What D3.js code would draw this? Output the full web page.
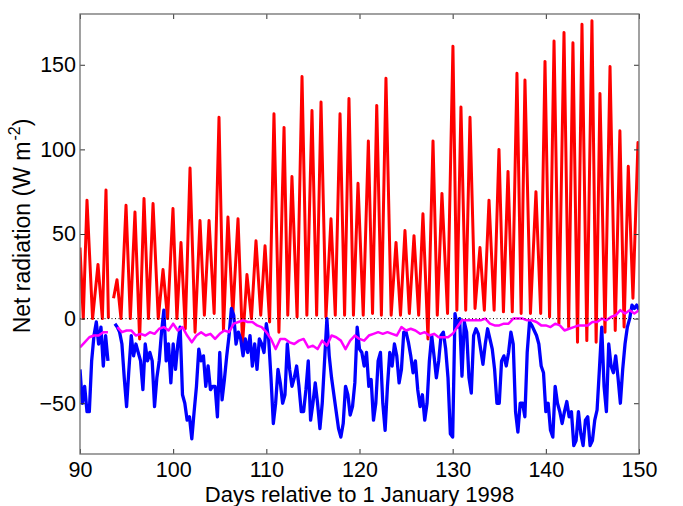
<!DOCTYPE html>
<html>
<head>
<meta charset="utf-8">
<script src="https://cdn.jsdelivr.net/npm/d3@7"></script>
<style>
  body { margin: 0; background: #fff; }
  svg text { font-family: "Liberation Sans", Arial, Helvetica, sans-serif; fill: #000; }
</style>
</head>
<body>
<svg id="chart" width="683" height="506"></svg>
<script>
// tick labels
const xTicks = [90, 100, 110, 120, 130, 140, 150];
const yTicks = [-50, 0, 50, 100, 150];

// red series: [day, W m-2], null = data gap
const redPoints = [
  [90.00, 42], [90.35, 0], [90.75, 70], [91.35, 0], [91.93, 32], [92.40, 0], [92.79, 76], [93.05, 0], null,
  [93.60, 12], [93.97, 23], [94.40, 0], [94.94, 67], [95.40, 0], [95.90, 63], [96.40, -12], [96.87, 71],
  [97.35, 0], [97.84, 68], [98.40, 0], [98.91, 29], [99.40, 0], [99.98, 65], [100.40, 0], [100.84, 45],
  [101.30, -6], [101.81, 89], [102.35, -8], [102.88, 58], [103.35, 2], [103.85, 58], [104.40, 3],
  [104.92, 119], [105.02, 92], [105.40, -7], [105.88, 60], [106.40, 2], [106.96, 59], [107.45, -15],
  [107.92, 26], [108.40, 0], [108.89, 46], [109.40, 2], [109.86, 43], [110.35, -2], [110.82, 121],
  [111.35, -8], [111.90, 113], [112.30, 2], [112.75, 84], [113.30, 1], [113.83, 143], [114.35, 2],
  [114.90, 123], [115.40, 2], [115.87, 128], [116.40, 1], [116.94, 59], [117.40, 2], [117.91, 121],
  [118.40, 2], [118.87, 130], [119.35, 2], [119.84, 80], [120.40, 2], [120.95, 105], [121.40, 3],
  [121.85, 126], [122.35, 2], [122.84, 142], [123.40, 2], [123.92, 45], [124.40, 2], [124.88, 52],
  [125.35, 3], [125.85, 49], [126.35, 2], [126.81, 62], [127.35, -12], [127.89, 105], [128.35, 2],
  [128.85, 74], [129.45, 3], [130.03, 161], [130.45, 5], [130.89, 125], [131.40, 5], [131.86, 119],
  [132.40, 6], [132.93, 42], [133.40, 5], [133.90, 70], [134.45, 5], [134.97, 100], [135.45, 4],
  [135.94, 87], [136.40, 4], [136.90, 145], [137.35, 3], [137.76, 141], [138.35, 3], [138.94, 75],
  [139.45, 3], [139.91, 152], [140.40, 1], [140.88, 164], [141.40, -3], [141.95, 169], [142.45, -5],
  [142.91, 163], [143.40, -14], [143.88, 174], [144.40, -13], [144.95, 176], [145.40, -14],
  [145.81, 133], [146.35, -8], [146.89, 149], [147.45, -7], [147.95, 111], [148.40, -5], [148.85, 90],
  [149.35, 12], [149.89, 104], [150.00, 100]
];

// blue series, sampled every 6 h from day 90
const blueStart = 90;
const blueStep = 0.25;
const blueValues = [
  -30, -50, -40, -55,   -55, -25, -10, -2,    -15, -5, -28, -10,    -25, null, null, -3,
  -5, -8, -15, -35,     -52, -30, -10, -22,   -15, -20, -25, -42,   -15, -25, -20, -25,
  -52, -35, -25, -8,    5, -25, -15, -38,     -15, -30, -15, -5,    -45, -50, -60, -58,
  -71, -55, -40, -18,   -25, -22, -40, -28,   -42, -40, -40, -58,   -20, -48, -36, -22,
  -10, 6, 2, -15,       -8, -12, -22, -12,    -20, -10, -28, -15,   -30, -12, -15, -20,
  -3, -12, -35, -62,    -50, -30, -38, -50,   -45, -15, -30, -40,   -35, -28, -40, -55,
  -55, -42, -25, -60,   -50, -38, -50, -65,   -50, -25, 0, -22,     -35, -45, -55, -65,
  -70, -62, -40, -45,   -57, -52, -38, -5,    -18, -20, -28, -20,   -40, -36, -60, -50,
  -25, -20, -50, -66,   -40, -20, -28, -15,   -22, -38, -30, -8,    -8, -14, -22, -32,
  -25, -42, -52, -45,   -60, -50, -25, -10,   -22, -35, -25, -10,   -8, -18, -35, -68,
  -70, 3, -5, 0,        -34, -2, -8, -35,     -44, -10, -6, -9,     -18, -27, -15, -6,
  -12, -18, -30, -50,   -50, -25, -22, -28,   -20, -8, -15, -55,    -67, -50, -50, -58,
  -20, -2, -4, -7,      -10, -15, -28, -32,   -55, -50, -66, -70,   -40, -50, -55, -62,
  -55, -49, -58, -55,   -75, -72, -55, -68,   -75, -60, -58, -75,   -72, -60, -54, -30,
  -5, -40, -55, -15,    -28, -32, -22, -35,   -50, -30, -15, -5,    0, 8, 6, 8,
  5
];

// magenta series, sampled every 12 h from day 90
const magentaStart = 90;
const magentaStep = 0.5;
const magentaValues = [
  -17, -14, -11, -10, -10, -8, -8, null, -5, -8, -7, -7, -10, -9, -10, -8, -9, -6, -5, -7,
  -3, -7, -5, -10, -14, -10, -8, -10, -9, -12, -9, -7, -8, -3, -2, -1, -2, -2, -4, -5,
  -8, -12, -18, -12, -12, -14, -15, -13, -12, -17, -16, -18, -13, -16, -10, -11, -13, -18, -13, -10,
  -12, -13, -10, -9, -8, -9, -8, -9, -10, -5, -7, -6, -7, -9, -8, -10, -9, -11, -11, -11,
  -9, -5, -1, -1, -1, -1, -1, 0, -3, -4, -4, -3, -3, 0, 0, 0, -1, -1, -2, -4,
  -4, -5, -3, -4, -7, -6, -5, -4, -4, -4, -2, -2, 0, -1, 1, 2, 5, 3, 5, 3,
  5
];

const svg = d3.select("#chart");

const x = d3.scaleLinear().domain([90, 150]).range([80, 639]);
const y = d3.scaleLinear().domain([-80, 180]).range([454, 14]);

svg.append("defs").append("clipPath").attr("id", "plotArea")
  .append("rect")
  .attr("x", 80).attr("y", 14)
  .attr("width", 559).attr("height", 440);

const line = d3.line()
  .defined(d => d !== null && d[1] !== null)
  .x(d => x(d[0]))
  .y(d => y(d[1]));

const blueSeries = blueValues.map((v, i) => [blueStart + i * blueStep, v]);
const magentaSeries = magentaValues.map((v, i) => [magentaStart + i * magentaStep, v]);

const plot = svg.append("g").attr("clip-path", "url(#plotArea)");

plot.append("path")
  .datum(redPoints)
  .attr("d", line)
  .attr("fill", "none")
  .attr("stroke", "#ff0000")
  .attr("stroke-width", 3)
  .attr("stroke-linejoin", "round");

plot.append("path")
  .datum(blueSeries)
  .attr("d", line)
  .attr("fill", "none")
  .attr("stroke", "#0000ff")
  .attr("stroke-width", 3.3)
  .attr("stroke-linejoin", "round");

plot.append("path")
  .datum(magentaSeries)
  .attr("d", line)
  .attr("fill", "none")
  .attr("stroke", "#ff00ff")
  .attr("stroke-width", 2.5)
  .attr("stroke-linejoin", "round");

// dotted zero line
plot.append("line")
  .attr("x1", x(90)).attr("x2", x(150))
  .attr("y1", y(0)).attr("y2", y(0))
  .attr("stroke", "#000")
  .attr("stroke-width", 1)
  .attr("stroke-dasharray", "1,2.5");

// axes box with inward ticks on all sides
const axisColor = "#6f6f6f";

const gx = svg.append("g").attr("transform", "translate(0,454)")
  .call(d3.axisBottom(x).tickValues(xTicks).tickSize(-5).tickPadding(7.5).tickFormat(d3.format("d")));
const gxTop = svg.append("g").attr("transform", "translate(0,14)")
  .call(d3.axisTop(x).tickValues(xTicks).tickSize(-5).tickFormat(""));
const gy = svg.append("g").attr("transform", "translate(80,0)")
  .call(d3.axisLeft(y).tickValues(yTicks).tickSize(-5).tickPadding(4).tickFormat(d3.format("d")));
const gyRight = svg.append("g").attr("transform", "translate(639,0)")
  .call(d3.axisRight(y).tickValues(yTicks).tickSize(-5).tickFormat(""));

[gx, gxTop, gy, gyRight].forEach(g => {
  g.select(".domain").remove();
  g.selectAll(".tick line").attr("stroke", "#333");
  g.selectAll(".tick text")
    .attr("font-family", "'Liberation Sans', Arial, Helvetica, sans-serif")
    .attr("font-size", 21.5)
    .attr("fill", "#000");
});

svg.append("rect")
  .attr("x", 80).attr("y", 14)
  .attr("width", 559).attr("height", 440)
  .attr("fill", "none")
  .attr("stroke", axisColor)
  .attr("stroke-width", 1.3);

// axis labels
svg.append("text")
  .attr("x", (80 + 639) / 2)
  .attr("y", 501.5)
  .attr("text-anchor", "middle")
  .attr("font-size", 22)
  .text("Days relative to 1 January 1998");

const yLabel = svg.append("text")
  .attr("transform", "translate(30,226) rotate(-90)")
  .attr("text-anchor", "middle")
  .attr("font-size", 23);
yLabel.append("tspan").text("Net radiation (W m");
yLabel.append("tspan").attr("dy", -10).attr("dx", 1).attr("font-size", 16).text("-2");
yLabel.append("tspan").attr("dy", 10).text(")");
</script>
</body>
</html>
